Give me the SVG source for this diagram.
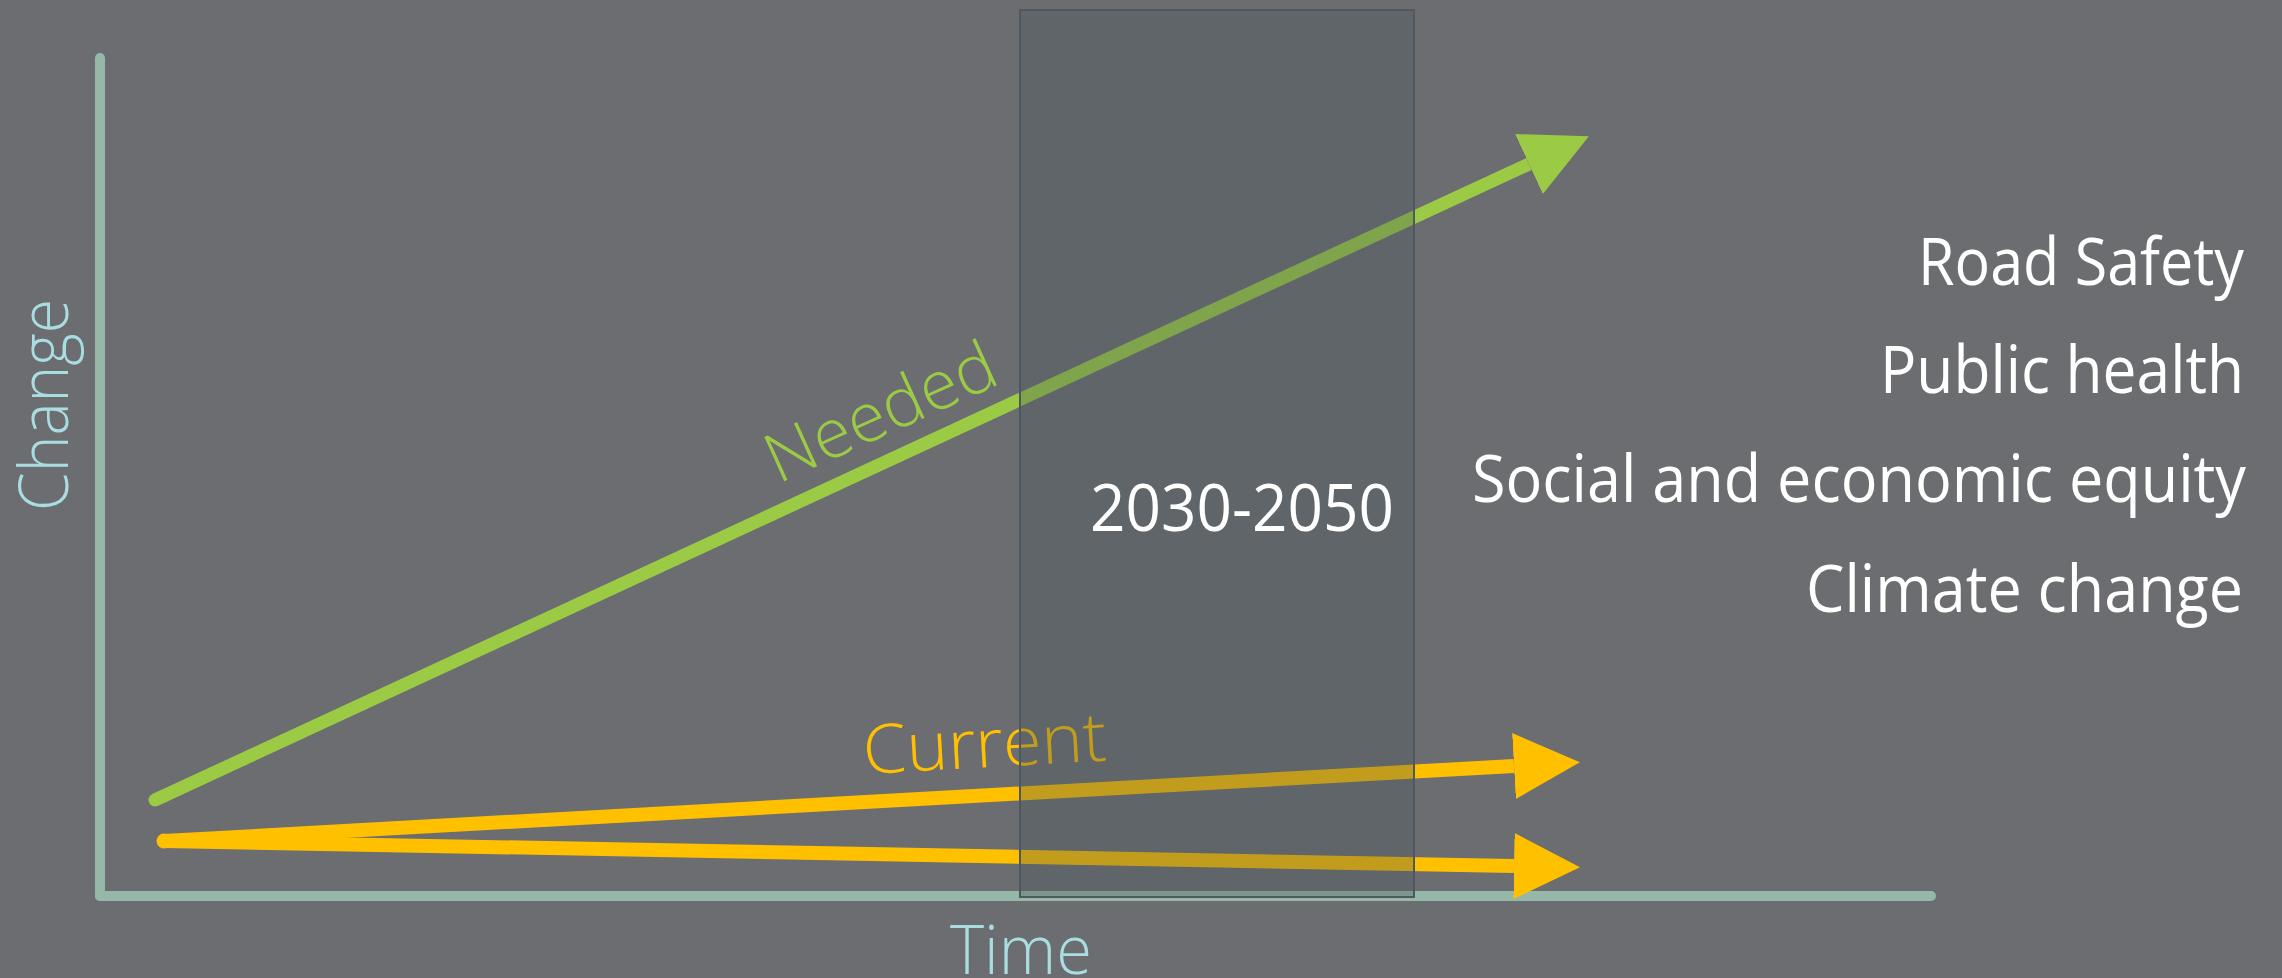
<svg xmlns="http://www.w3.org/2000/svg" width="2282" height="978" viewBox="0 0 2282 978">
  <style>
    .axis { stroke: #95B8A8; stroke-width: 10; stroke-linecap: round; fill: none; }
    .green { stroke: #9BCB45; stroke-width: 13; fill: none; }
    .yellow { stroke: #FFC000; stroke-width: 14; fill: none; }
    .light { font-family: "Open Sans", "Noto Sans", sans-serif; font-weight: 300; font-size: 68px; }
    .body { font-family: "Open Sans", "Noto Sans", sans-serif; font-weight: 400; font-size: 66px; fill: #FFFFFF; }
  </style>
  <defs>
    <marker id="headG" markerUnits="userSpaceOnUse" viewBox="0 0 66 66" refX="0" refY="33" markerWidth="66" markerHeight="66" orient="auto">
      <path d="M0,0 L66,33 L0,66 Z" fill="#9BCB45"/>
    </marker>
    <marker id="headY" markerUnits="userSpaceOnUse" viewBox="0 0 66 66" refX="0" refY="33" markerWidth="66" markerHeight="66" orient="auto">
      <path d="M0,0 L66,33 L0,66 Z" fill="#FFC000"/>
    </marker>
  </defs>
  <rect x="0" y="0" width="2282" height="978" fill="#6C6D71"/>

  <g id="axes">
    <line class="axis" x1="100" y1="58" x2="100" y2="896"/>
    <line class="axis" x1="100" y1="896" x2="1931" y2="896"/>
  </g>

  <g id="connectors">
    <line class="green" x1="155" y1="800" x2="1529" y2="164" marker-end="url(#headG)"/>
    <circle cx="155" cy="800" r="6.5" fill="#9BCB45"/>
    <line class="yellow" x1="164" y1="841" x2="1514" y2="766" marker-end="url(#headY)"/>
    <line class="yellow" x1="164" y1="841" x2="1514" y2="866" marker-end="url(#headY)"/>
    <circle cx="164" cy="841" r="7.5" fill="#FFC000"/>
  </g>

  <g id="label-needed">
    <text class="light" fill="#9BCB45" x="778" y="484" transform="rotate(-24.3 778 484)" textLength="246" lengthAdjust="spacingAndGlyphs">Needed</text>
  </g>
  <g id="label-current">
    <text class="light" fill="#FFC000" x="864" y="774" transform="rotate(-3.2 864 774)" textLength="244" lengthAdjust="spacingAndGlyphs">Current</text>
  </g>

  <g id="period">
    <rect x="1020" y="10" width="394" height="887" fill="rgb(71,86,89)" fill-opacity="0.33" stroke="#4E585E" stroke-width="2"/>
    <text class="body" x="1242" y="531" text-anchor="middle" textLength="304" lengthAdjust="spacingAndGlyphs">2030-2050</text>
  </g>

  <g id="axis-labels">
    <text class="light" fill="#A9DDE2" x="950" y="974" textLength="142" lengthAdjust="spacingAndGlyphs">Time</text>
    <text class="light" fill="#A9DDE2" x="68" y="511" transform="rotate(-90 68 511)" textLength="212" lengthAdjust="spacingAndGlyphs">Change</text>
  </g>

  <g id="goals">
    <text class="body" x="2244" y="285" text-anchor="end" textLength="326" lengthAdjust="spacingAndGlyphs">Road Safety</text>
    <text class="body" x="2244" y="393" text-anchor="end" textLength="364" lengthAdjust="spacingAndGlyphs">Public health</text>
    <text class="body" x="2246" y="502" text-anchor="end" textLength="774" lengthAdjust="spacingAndGlyphs">Social and economic equity</text>
    <text class="body" x="2243" y="612" text-anchor="end" textLength="437" lengthAdjust="spacingAndGlyphs">Climate change</text>
  </g>
</svg>
